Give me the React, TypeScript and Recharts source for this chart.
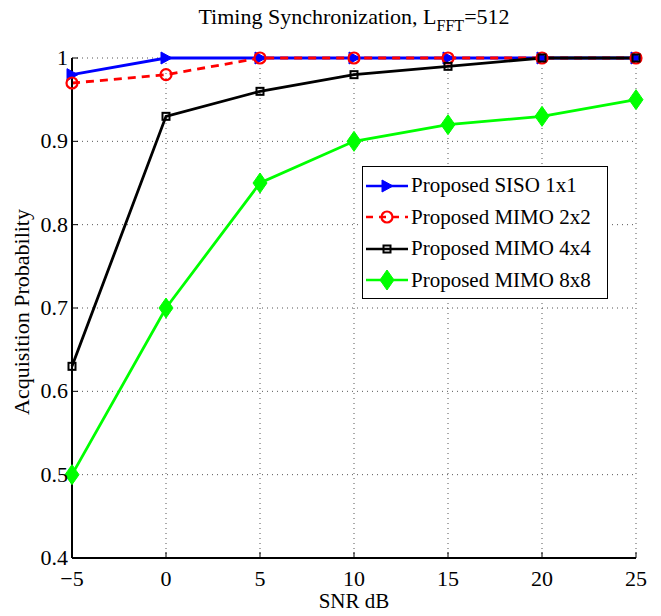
import React from "react";
import {
  LineChart,
  Line,
  XAxis,
  YAxis,
  CartesianGrid,
} from "recharts";

// values
const snr = [-5, 0, 5, 10, 15, 20, 25];
const siso1x1 = [0.98, 1, 1, 1, 1, 1, 1];
const mimo2x2 = [0.97, 0.98, 1, 1, 1, 1, 1];
const mimo4x4 = [0.63, 0.93, 0.96, 0.98, 0.99, 1, 1];
const mimo8x8 = [0.5, 0.7, 0.85, 0.9, 0.92, 0.93, 0.95];

const xTicks = [-5, 0, 5, 10, 15, 20, 25];
const yTicks = [0.4, 0.5, 0.6, 0.7, 0.8, 0.9, 1];

const data = snr.map((s, i) => ({
  snr: s,
  siso: siso1x1[i],
  m2: mimo2x2[i],
  m4: mimo4x4[i],
  m8: mimo8x8[i],
}));

const FONT = "'Liberation Serif', 'DejaVu Serif', serif";

const series = [
  { key: "siso", name: "Proposed SISO 1x1", color: "#0000ff", dash: undefined, marker: "tri" },
  { key: "m2", name: "Proposed MIMO 2x2", color: "#ff0000", dash: "8 6", marker: "circle" },
  { key: "m4", name: "Proposed MIMO 4x4", color: "#000000", dash: undefined, marker: "square" },
  { key: "m8", name: "Proposed MIMO 8x8", color: "#00ff00", dash: undefined, marker: "diamond" },
];

const Marker = ({ type, cx, cy, color }: any) => {
  if (cx == null || cy == null) return null;
  if (type === "tri") {
    return (
      <polygon
        points={`${cx - 5},${cy - 6} ${cx + 6},${cy} ${cx - 5},${cy + 6}`}
        fill={color}
        stroke={color}
        strokeWidth={1}
      />
    );
  }
  if (type === "circle") {
    return <circle cx={cx} cy={cy} r={5.5} fill="none" stroke={color} strokeWidth={2.2} />;
  }
  if (type === "square") {
    return (
      <rect x={cx - 3.5} y={cy - 3.5} width={7} height={7} fill="none" stroke={color} strokeWidth={2} />
    );
  }
  return (
    <polygon
      points={`${cx},${cy - 10} ${cx + 7},${cy} ${cx},${cy + 10} ${cx - 7},${cy}`}
      fill={color}
      stroke={color}
      strokeWidth={1}
    />
  );
};

const LegendBox = () => (
  <div
    style={{
      position: "absolute",
      left: 362,
      top: 166,
      width: 246,
      height: 133,
      border: "1px solid #000",
      background: "#fff",
      boxSizing: "border-box",
      paddingTop: 3,
      zIndex: 3,
    }}
  >
    {series.map((s) => (
      <div key={s.key} style={{ display: "flex", alignItems: "center", height: 31.5 }}>
        <svg width={48} height={24} style={{ flex: "none" }}>
          <line
            x1={3}
            y1={12}
            x2={45}
            y2={12}
            stroke={s.color}
            strokeWidth={2.5}
            strokeDasharray={s.dash ? "7 6" : undefined}
          />
          <Marker type={s.marker} cx={24} cy={12} color={s.color} />
        </svg>
        <span style={{ fontFamily: FONT, fontSize: 21, color: "#000", whiteSpace: "nowrap" }}>
          {s.name}
        </span>
      </div>
    ))}
  </div>
);

const fmtX = (v: number) => (v < 0 ? `\u2212${Math.abs(v)}` : `${v}`);
const fmtY = (v: number) => (v === 1 ? "1" : v.toFixed(1));

const XTick = ({ x, y, payload }: any) => (
  <text x={x} y={y + 34} textAnchor="middle" fill="#000" style={{ fontFamily: FONT, fontSize: 22 }}>
    {fmtX(payload.value)}
  </text>
);

const YTick = ({ x, y, payload }: any) => (
  <text x={x - 10} y={y + 7} textAnchor="end" fill="#000" style={{ fontFamily: FONT, fontSize: 22 }}>
    {fmtY(payload.value)}
  </text>
);

const XLabel = ({ viewBox }: any) => (
  <text
    x={viewBox.x + viewBox.width / 2}
    y={608}
    textAnchor="middle"
    fill="#000"
    style={{ fontFamily: FONT, fontSize: 21 }}
  >
    SNR dB
  </text>
);

const YLabel = ({ viewBox }: any) => {
  const cy = viewBox.y + viewBox.height / 2 + 4;
  return (
    <text
      x={29}
      y={cy}
      transform={`rotate(-90 29 ${cy})`}
      textAnchor="middle"
      fill="#000"
      style={{ fontFamily: FONT, fontSize: 22 }}
    >
      Acquisition Probability
    </text>
  );
};

export default function App() {
  return (
    <div
      style={{
        position: "relative",
        width: 661,
        height: 616,
        margin: "-8px 0 0 -8px",
        background: "#fff",
        fontFamily: FONT,
      }}
    >
      <LineChart
        width={661}
        height={616}
        data={data}
        margin={{ top: 58, right: 25, left: 12, bottom: 18 }}
      >
        <CartesianGrid
          stroke="#555"
          strokeDasharray="1 4"
          strokeWidth={1}
          horizontalValues={yTicks}
          verticalValues={xTicks}
        />
        <XAxis
          dataKey="snr"
          type="number"
          domain={[-5, 25]}
          ticks={xTicks}
          height={40}
          axisLine={{ stroke: "#000", strokeWidth: 2 }}
          tickLine={{ stroke: "#000" }}
          tickSize={-6}
          tickMargin={0}
          tick={<XTick />}
          label={<XLabel />}
        />
        <XAxis
          xAxisId="top"
          orientation="top"
          dataKey="snr"
          type="number"
          domain={[-5, 25]}
          ticks={xTicks}
          height={0}
          axisLine={{ stroke: "#000", strokeWidth: 2 }}
          tickLine={{ stroke: "#000" }}
          tickSize={-6}
          tick={false}
        />
        <YAxis
          type="number"
          domain={[0.4, 1]}
          ticks={yTicks}
          width={60}
          axisLine={{ stroke: "#000", strokeWidth: 2 }}
          tickLine={{ stroke: "#000" }}
          tickSize={-6}
          tickMargin={0}
          tick={<YTick />}
          label={<YLabel />}
        />
        <YAxis
          yAxisId="right"
          orientation="right"
          type="number"
          domain={[0.4, 1]}
          ticks={yTicks}
          width={0}
          axisLine={{ stroke: "#000", strokeWidth: 2 }}
          tickLine={{ stroke: "#000" }}
          tickSize={-6}
          tick={false}
        />
        {series.map((s) => (
          <Line
            key={s.key}
            dataKey={s.key}
            name={s.name}
            stroke={s.color}
            strokeWidth={2.8}
            strokeDasharray={s.dash}
            isAnimationActive={false}
            dot={(p: any) => (
              <Marker key={`${s.key}-${p.index}`} type={s.marker} cx={p.cx} cy={p.cy} color={s.color} />
            )}
            activeDot={false}
          />
        ))}
      </LineChart>
      <div
        style={{
          position: "absolute",
          left: 0,
          width: 708,
          top: 5,
          textAlign: "center",
          fontFamily: FONT,
          fontSize: 22,
          lineHeight: "24px",
          color: "#000",
          zIndex: 2,
        }}
      >
        Timing Synchronization, L<sub style={{ fontSize: 16, verticalAlign: -7, lineHeight: 0 }}>FFT</sub>=512
      </div>
      <LegendBox />
    </div>
  );
}
